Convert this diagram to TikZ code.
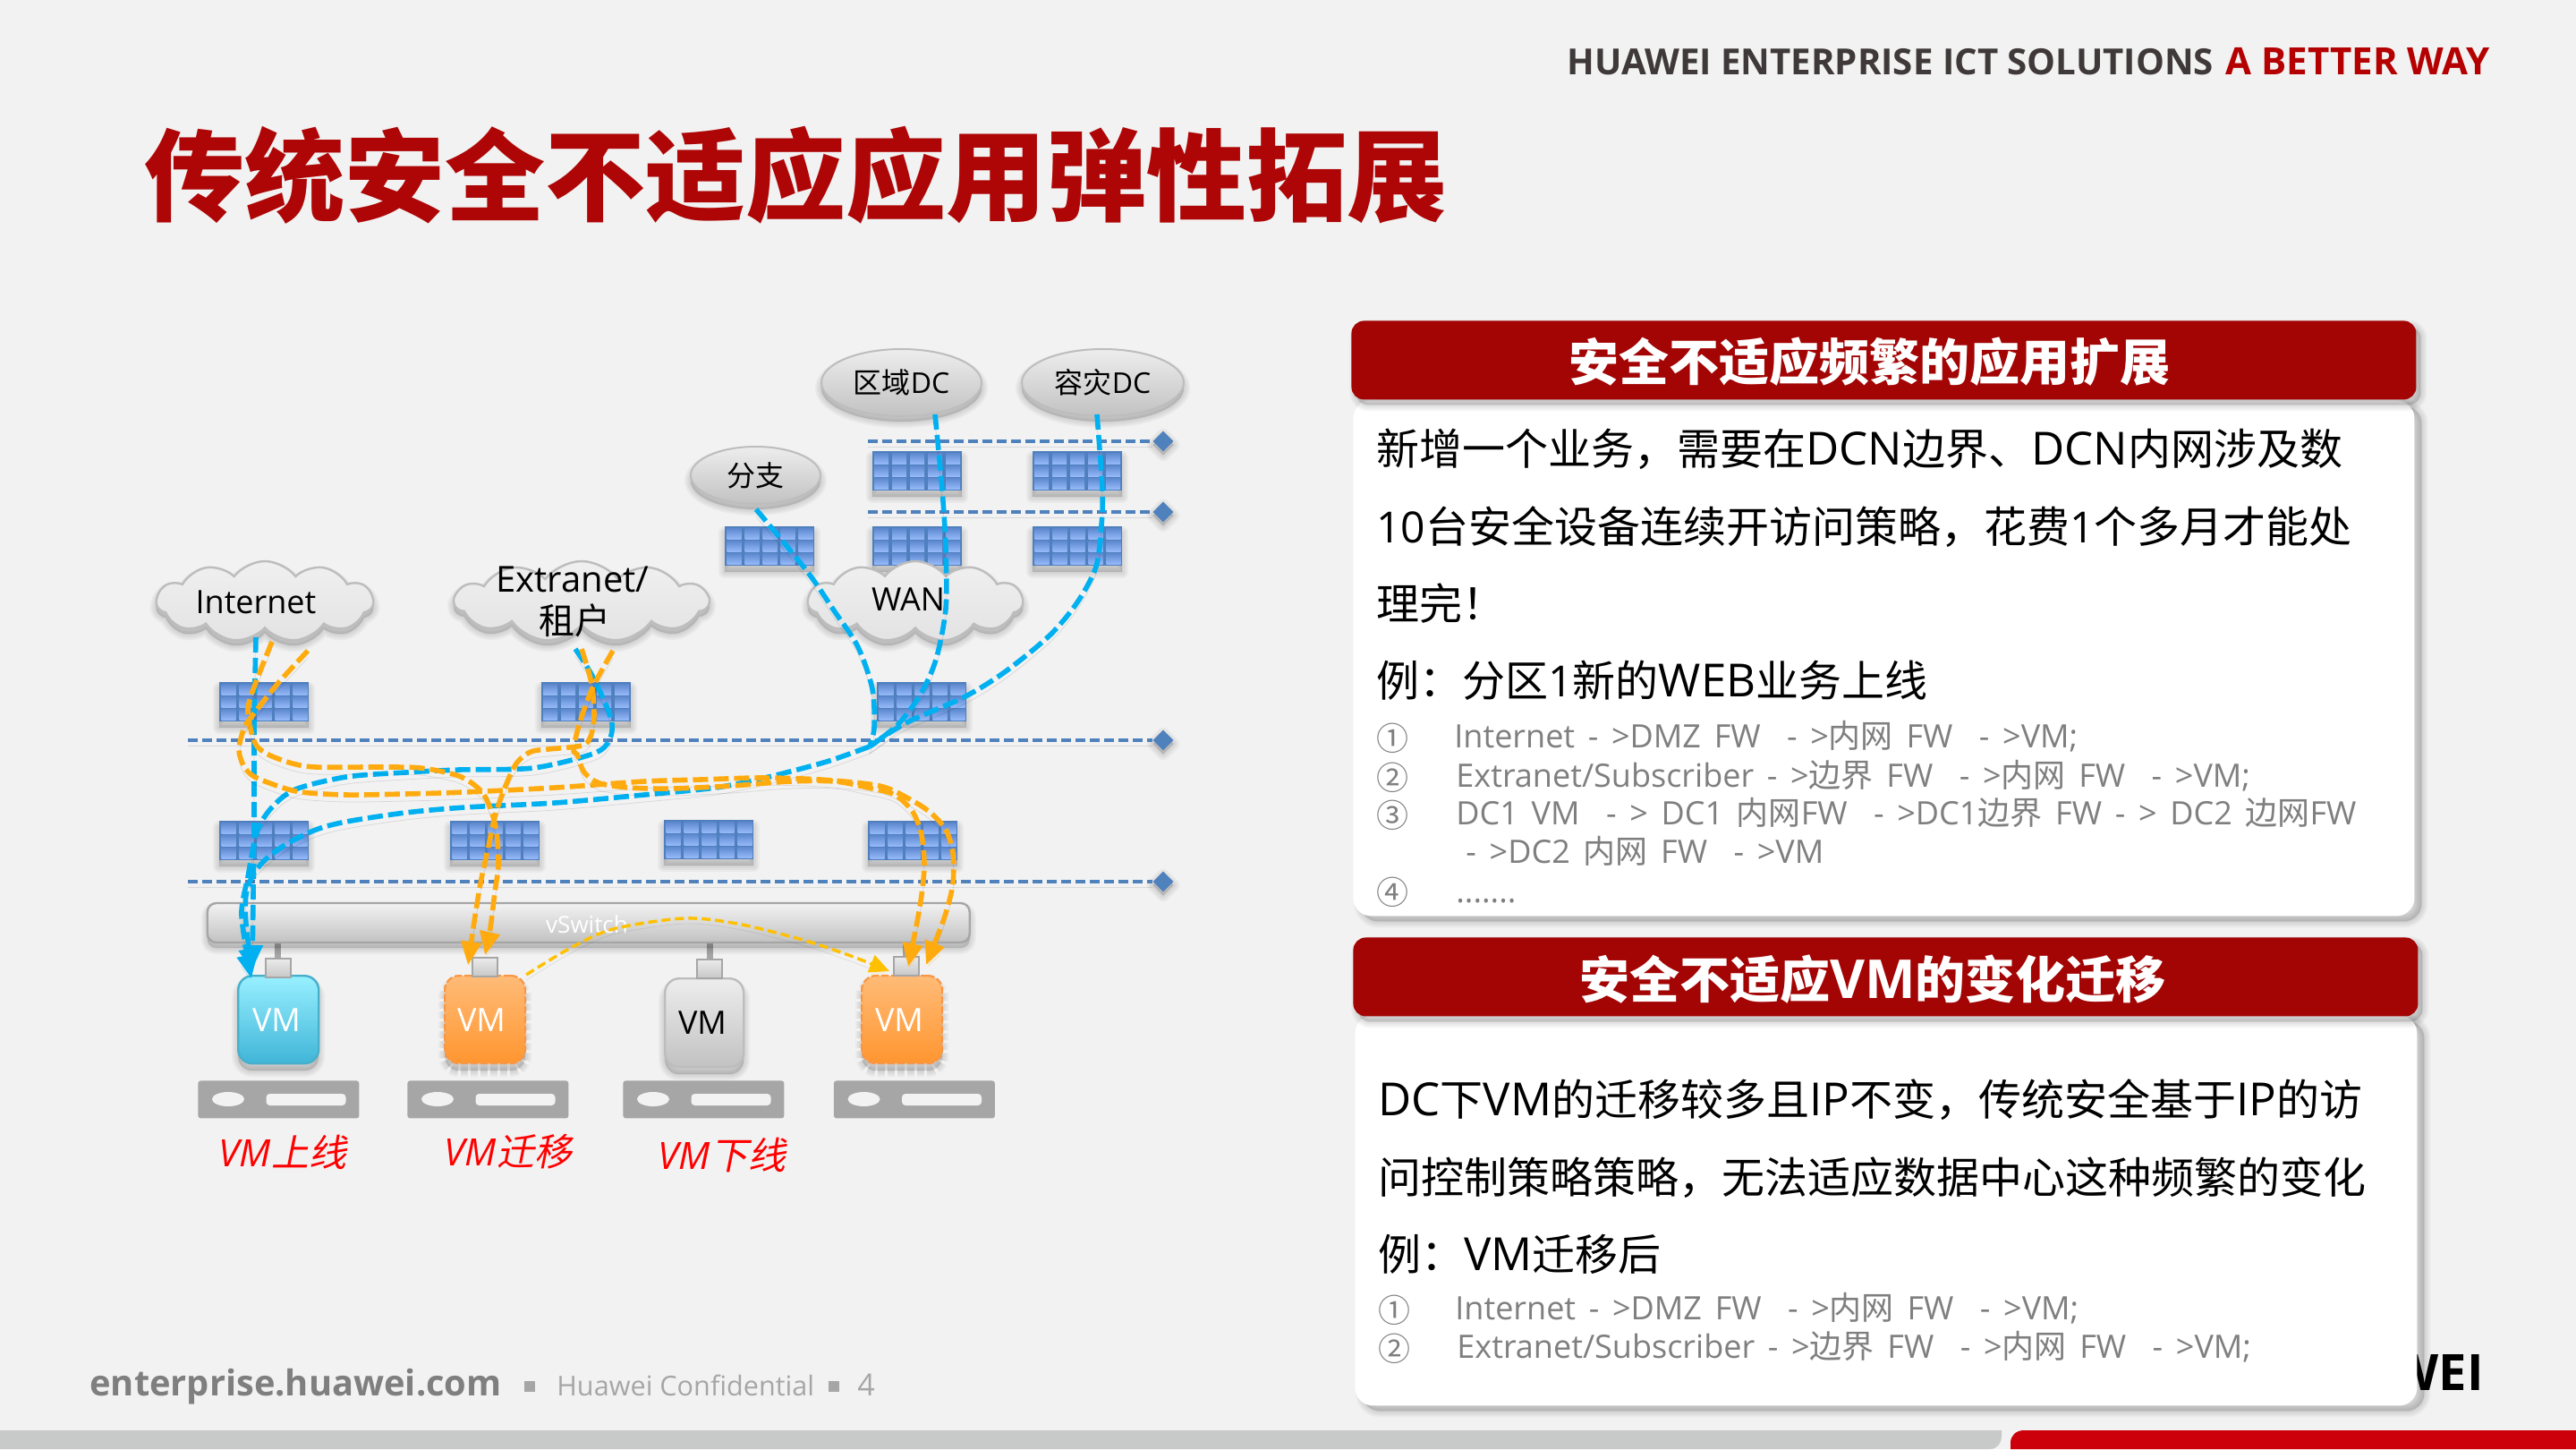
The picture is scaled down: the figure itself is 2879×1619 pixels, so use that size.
\documentclass[tikz,border=0pt]{standalone}
\usepackage{fontspec}
\setmainfont{Open Sans}
\newfontfamily\cjk{Noto Sans CJK SC}
\newfontfamily\cjkit{Noto Sans CJK SC}[FakeSlant=0.2]
\usetikzlibrary{shapes.geometric,shapes.symbols,arrows.meta}
\newcommand\C[1]{{\cjk #1}}
\newcommand\fs[1]{\fontsize{#1}{#1}\selectfont}
\newcommand\Lt[1]{{\fs{25.5}#1}}
\newcommand\listfont{\fs{18}\spaceskip=7.35pt\relax}
\definecolor{bgc}{HTML}{F2F2F2}
\definecolor{bandc}{HTML}{A30404}
\definecolor{titlec}{HTML}{AE0606}
\definecolor{headc}{HTML}{3F3A39}
\definecolor{headr}{HTML}{B40000}
\definecolor{greyt}{HTML}{7F7F7F}
\definecolor{greyl}{HTML}{A6A6A6}
\definecolor{barg}{HTML}{C8CAC9}
\definecolor{barr}{HTML}{CC000B}
\definecolor{fwb}{HTML}{4F7FBD}
\definecolor{fwt}{HTML}{5F8AD0}
\definecolor{fwl}{HTML}{94B8F8}
\definecolor{dashb}{HTML}{4F81BD}
\definecolor{linkb}{HTML}{00B0F0}
\definecolor{linko}{HTML}{FFAB0F}
\definecolor{linky}{HTML}{FFC000}
\definecolor{bord}{HTML}{BDBDBD}
\definecolor{cyant}{HTML}{98F0FF}
\definecolor{cyanb}{HTML}{40B5D8}
\definecolor{cyanl}{HTML}{48AFCB}
\definecolor{oranget}{HTML}{FFBB77}
\definecolor{orangeb}{HTML}{FF9630}
\definecolor{orangel}{HTML}{F79646}
\tikzset{
  softshadow/.style 2 args={
    preaction={draw=black,fill=black,line join=round,opacity=.035,line width=7pt,transform canvas={xshift=#1,yshift=#2}},
    preaction={draw=black,fill=black,line join=round,opacity=.035,line width=5pt,transform canvas={xshift=#1,yshift=#2}},
    preaction={draw=black,fill=black,line join=round,opacity=.035,line width=3pt,transform canvas={xshift=#1,yshift=#2}},
    preaction={draw=black,fill=black,line join=round,opacity=.035,line width=1pt,transform canvas={xshift=#1,yshift=#2}}},
  band/.style={rectangle,rounded corners=7pt,fill=bandc,minimum height=44pt,inner sep=0pt,anchor=north west,softshadow={2.5pt}{-3pt}},
  card/.style={rectangle,rounded corners=10pt,fill=white,inner sep=0pt,anchor=north west,softshadow={4pt}{-3pt}},
  bandtext/.style={text=white,font=\bfseries\fs{28},inner sep=0pt,anchor=center},
  bodytext/.style={text=black,font=\fs{24},inner sep=0pt,anchor=base west},
  listtext/.style={text=greyt,font=\listfont,inner sep=0pt,anchor=base west},
  plain/.style={inner sep=0pt,anchor=base west},
  fwbody/.style={rectangle,fill=fwb,minimum width=50pt,minimum height=22pt,inner sep=0pt,anchor=north west,softshadow={0pt}{-3.5pt}},
  fwcell/.style={top color=fwt,bottom color=fwl},
  tier/.style={draw=dashb,line width=1.8pt,dash pattern=on 5.5pt off 2.5pt,preaction={draw=black,opacity=.10,transform canvas={yshift=-3pt}}},
  tiermark/.style={diamond,fill=dashb,minimum width=11.5pt,minimum height=11.5pt,inner sep=0pt,aspect=1,softshadow={0pt}{-2pt}},
  oval/.style={ellipse,draw=bord,line width=1pt,top color=white!93!black,bottom color=white!76!black,inner sep=0pt,font=\fs{16},softshadow={0pt}{-3pt}},
  puff/.style={cloud,cloud puffs=11,cloud puff arc=105,aspect=2.7,draw=bord,line width=1.2pt,top color=white!94!black,bottom color=white!89!black,inner sep=0pt,softshadow={0pt}{-3pt}},
  link/.style={line width=2.8pt,dash pattern=on 8.5pt off 3pt,preaction={draw=black,opacity=.10,transform canvas={yshift=-4pt}}},
  bluelink/.style={link,draw=linkb},
  orangelink/.style={link,draw=linko},
  thinlink/.style={draw=linky,line width=1.7pt,dash pattern=on 5pt off 2.5pt,preaction={draw=black,opacity=.08,transform canvas={yshift=-3pt}}},
  bluetip/.style={-{Triangle[length=13pt,width=11pt,fill=linkb,color=linkb]}},
  orangetip/.style={-{Triangle[length=13pt,width=11pt,fill=linko,color=linko]}},
  yellowtip/.style={-{Triangle[length=11pt,width=10pt,fill=linky,color=linky]}},
  vmbox/.style={rectangle,rounded corners=8pt,minimum width=45pt,minimum height=49pt,inner sep=0pt,anchor=north west,softshadow={0pt}{-4pt}},
  vmcyan/.style={vmbox,draw=cyanl,line width=1.2pt,top color=cyant,bottom color=cyanb},
  vmorange/.style={vmbox,draw=orangel,line width=1.1pt,dash pattern=on 4pt off 1.5pt,top color=oranget,bottom color=orangeb},
  vmgray/.style={vmbox,draw=bord,line width=1.2pt,top color=white!93!black,bottom color=white!76!black},
  vmtext/.style={font=\fs{18},inner sep=0pt},
  port/.style={rectangle,draw=greyl,line width=1.2pt,top color=white!92!black,bottom color=white!78!black,minimum width=14pt,minimum height=10.5pt,inner sep=0pt,anchor=north west},
  stub/.style={draw=greyl,line width=3.5pt},
  rack/.style={rectangle,rounded corners=1.5pt,fill=greyl,minimum width=90pt,minimum height=21pt,inner sep=0pt,anchor=north west},
  rackhole/.style={ellipse,fill=bgc,minimum width=18pt,minimum height=8pt,inner sep=0pt},
  rackslot/.style={rectangle,rounded corners=2pt,fill=bgc,minimum width=44.5pt,minimum height=6.5pt,inner sep=0pt},
  redlabel/.style={text=red,font=\itshape\fs{21},inner sep=0pt}
}
\newcommand\fwbox[3]{%
  \node[fwbody] (#1) at (#2,#3) {};
  \begin{scope}[shift={(#2,#3)}]
    \foreach \i in {0,...,4}\foreach \j in {0,1,2}
      \fill[fwcell] ({\i*20+2.5},{\j*14+2.5}) rectangle ++(16,11.5);
  \end{scope}}
\newcommand\rackbox[2]{%
  \node[rack] (#1) at (#2,1207) {};
  \node[rackhole] (#1h) at ({#2+34},1228) {};
  \node[rackslot] (#1s) at ({#2+121},1228.5) {};}
\begin{document}
\begin{tikzpicture}[x=0.5pt,y=-0.5pt]
\useasboundingbox (0,0) rectangle (2879,1619);
\fill[bgc] (0,0) rectangle (2879,1619);
% bottom bars
\fill[barg] (0,1598) -- (2237,1598) -- (2237,1604) .. controls (2237,1612) and (2232,1619) .. (2224,1619) -- (0,1619) -- cycle;
\fill[barr] (2247,1619) -- (2247,1612) .. controls (2247,1604) and (2253,1598) .. (2262,1598) -- (2879,1598) -- (2879,1619) -- cycle;
% header
\node[plain,font=\bfseries\fs{20.1},text=headc] (hd1) at (1751,83) {HUAWEI ENTERPRISE ICT SOLUTIONS};
\node[plain,font=\bfseries\fs{21},text=headr] (hd2) at (2487,83) {A BETTER WAY};
\node[plain,font=\bfseries\fs{56},text=titlec] (ttl) at (161,238) {\C{传统安全不适应应用弹性拓展}};
% footer
\node[plain,font=\bfseries\fs{19.9},text=greyt] (ft1) at (100,1559) {enterprise.huawei.com};
\fill[greyl] (586,1543) rectangle (598,1555);
\node[plain,font=\fs{15.3},text=greyl] (ft2) at (622,1559) {Huawei Confidential};
\fill[greyl] (926,1543) rectangle (938,1555);
\node[plain,font=\fs{17},text=greyl] (ft3) at (958,1559) {4};
\node[inner sep=0pt,anchor=base east,font=\bfseries\fs{28},text=black] (logo) at (2776,1553) {HUAWEI};
% cards
\node[card,minimum width=593pt,minimum height=288pt] (card1) at (1512,447) {};
\node[band,minimum width=595pt] (band1) at (1510,358) {};
\node[bandtext] (band1t) at (2089,404) {\C{安全不适应频繁的应用扩展}};
\node[bodytext] (a1) at (1538,519) {\C{新增一个业务，需要在}\Lt{DCN}\C{边界、}\Lt{DCN}\C{内网涉及数}};
\node[bodytext] (a2) at (1538,606) {10\C{台安全设备连续开访问策略，花费}1\C{个多月才能处}};
\node[bodytext] (a3) at (1538,692) {\C{理完！}};
\node[bodytext] (a4) at (1538,778) {\C{例：分区}1\C{新的}\Lt{WEB}\C{业务上线}};
\node[listtext] (n1) at (1538,838) {\C{①}};
\node[listtext] (l1) at (1625,835) {Internet - >DMZ FW \ - >\C{内网} FW \ - >VM;};
\node[listtext] (n2) at (1538,882) {\C{②}};
\node[listtext] (l2) at (1627,879) {Extranet/Subscriber - >\C{边界} FW \ - >\C{内网} FW \ - >VM;};
\node[listtext] (n3) at (1538,924) {\C{③}};
\node[listtext] (l3) at (1627,921) {DC1 VM \ - > DC1 \C{内网}FW \ - >DC1\C{边界} FW - > DC2 \C{边网}FW};
\node[listtext] (l3b) at (1638,964) {- >DC2 \C{内网} FW \ - >VM};
\node[listtext] (n4) at (1538,1010) {\C{④}};
\node[listtext] (l4) at (1627,1008) {.......};
\node[card,minimum width=593.5pt,minimum height=218pt] (card2) at (1514,1134) {};
\node[band,minimum width=595pt] (band2) at (1512,1047) {};
\node[bandtext] (band2t) at (2093,1094) {\C{安全不适应}{\fs{30}VM}\C{的变化迁移}};
\node[bodytext] (b1) at (1540,1246) {\Lt{DC}\C{下}\Lt{VM}\C{的迁移较多且}\Lt{IP}\C{不变，传统安全基于}\Lt{IP}\C{的访}};
\node[bodytext] (b2) at (1540,1333) {\C{问控制策略策略，无法适应数据中心这种频繁的变化}};
\node[bodytext] (b3) at (1540,1419) {\C{例：}\Lt{VM}\C{迁移后}};
\node[listtext] (m1) at (1540,1477) {\C{①}};
\node[listtext] (k1) at (1626,1474) {Internet - >DMZ FW \ - >\C{内网} FW \ - >VM;};
\node[listtext] (m2) at (1540,1520) {\C{②}};
\node[listtext] (k2) at (1628,1517) {Extranet/Subscriber - >\C{边界} FW \ - >\C{内网} FW \ - >VM;};
% tiers
\node[tiermark] (d1) at (1300,493) {};
\node[tiermark] (d2) at (1300,572) {};
\node[tiermark] (d3) at (1300,827) {};
\node[tiermark] (d4) at (1300,985) {};
\coordinate (t1) at (970,493); \coordinate (t2) at (970,572);
\coordinate (t3) at (210,827); \coordinate (t4) at (210,985);
\draw[tier] (t1) -- (d1.west);
\draw[tier] (t2) -- (d2.west);
\draw[tier] (t3) -- (d3.west);
\draw[tier] (t4) -- (d4.west);
% firewalls
\fwbox{fwA}{974.5}{504}
\fwbox{fwB}{1153.5}{504}
\fwbox{fwC}{810}{588}
\fwbox{fwD}{974.5}{588}
\fwbox{fwE}{1154}{588}
\fwbox{fwF}{245}{762}
\fwbox{fwG}{604.5}{762}
\fwbox{fwH}{980}{762}
\fwbox{fwI}{245}{917}
\fwbox{fwJ}{503}{917}
\fwbox{fwK}{742}{916}
\fwbox{fwL}{970}{917}
% ovals
\node[oval,minimum width=89.5pt,minimum height=37.5pt] (dcA) at (1007.5,427.5) {\C{区域}DC};
\node[oval,minimum width=90.5pt,minimum height=37.5pt] (dcB) at (1232.5,427.5) {\C{容灾}DC};
\node[oval,minimum width=72.5pt,minimum height=32pt] (br) at (844.5,531) {\C{分支}};
% clouds
\node[puff,minimum width=121pt,minimum height=45pt] (inet) at (296,672) {};
\node[puff,minimum width=142pt,minimum height=45pt] (extr) at (650,672) {};
\node[puff,minimum width=120pt,minimum height=45pt] (wan) at (1023,672) {};
\node[inner sep=0pt,font=\fs{18}] (inetT) at (286,673) {Internet};
\node[inner sep=0pt,font=\fs{20}] (extrT) at (640,647) {Extranet/};
\node[inner sep=0pt,font=\fs{20}] (extrU) at (642,693) {\C{租户}};
\node[inner sep=0pt,font=\fs{18}] (wanT) at (1015,670) {WAN};
% vswitch, stubs
\draw[stub] (310,1053) -- (310,1072);
\draw[stub] (793,1053) -- (793,1074);
\draw[stub] (1012,1053) -- (1012,1070);
\node[rectangle,rounded corners=5pt,draw=greyl,line width=1.2pt,top color=white!95!black,bottom color=white!76!black,minimum width=426pt,minimum height=22pt,inner sep=0pt,softshadow={0pt}{-3pt}] (vsw) at (657.75,1031) {};
\node[inner sep=0pt,text=white,font=\fs{13}] (vswT) at (656,1033) {vSwitch};
% VMs
\node[vmcyan] (vm1) at (265,1089) {};
\node[vmorange] (vm2) at (496,1089) {};
\node[vmgray,minimum height=49.5pt,minimum width=44pt] (vm3) at (742,1092) {};
\node[vmorange] (vm4) at (962,1089) {};
\node[vmtext,text=white] at (309,1140) {VM};
\node[vmtext,text=white] at (538,1140) {VM};
\node[vmtext,text=black] at (785,1143) {VM};
\node[vmtext,text=white] at (1005,1140) {VM};
\node[port] (p1) at (296,1070) {};
\node[port] (p2) at (527,1069) {};
\node[port] (p3) at (778,1071) {};
\node[port] (p4) at (998,1068) {};
% racks
\rackbox{r1}{221}
\rackbox{r2}{455}
\rackbox{r3}{696}
\rackbox{r4}{931.5}
\node[redlabel] (L1) at (316,1287) {VM{\cjkit 上线}};
\node[redlabel] (L2) at (568,1287) {VM{\cjkit 迁移}};
\node[redlabel] (L3) at (807,1290) {VM{\cjkit 下线}};
% link ends
\coordinate (sI) at (286,712);  \coordinate (sIa) at (304,717); \coordinate (sIb) at (344,727);
\coordinate (sE) at (643,725);  \coordinate (sEa) at (650,725); \coordinate (sEb) at (685,727);
\coordinate (sB) at (845,569);  \coordinate (sA) at (1045,463); \coordinate (sD) at (1226,463);
\coordinate (join) at (972,834);
\coordinate (e1a) at (282,1082); \coordinate (e1b) at (281,1093); \coordinate (e1c) at (282,1086);
\coordinate (e2a) at (542,1067); \coordinate (e2b) at (523,1078);
\coordinate (e4a) at (1015,1080); \coordinate (e4b) at (1035,1078); \coordinate (e4c) at (994,1085);
% blue links
\draw[bluelink,bluetip] plot[smooth,tension=.5] coordinates {(sI) (285,760) (284,827) (284,917) (283,1000) (e1a)};
\draw[bluelink,bluetip] plot[smooth,tension=.5] coordinates {(sE) (663,757) (683,803) (681,827) (663,842) (596,858) (513,860) (453,863) (387,868) (330,882) (303,903) (287,930) (277,980) (270,1023) (e1b)};
\draw[bluelink] plot[smooth,tension=.5] coordinates {(sB) (901,637) (932,682) (959,723) (975,770) (977,813) (join)};
\draw[bluelink] plot[smooth,tension=.5] coordinates {(sA) (1053,547) (1057,613) (1057,680) (1046,737) (1028,777) (1003,810) (join)};
\draw[bluelink] plot[smooth,tension=.5] coordinates {(sD) (1232,547) (1231,587) (1225,633) (1204,673) (1173,710) (1124,750) (1079,778) (1012,808) (join)};
\draw[bluelink,bluetip] plot[smooth,tension=.5] coordinates {(join) (927,850) (883,862) (850,870) (800,880) (720,888) (620,897) (520,902) (453,908) (387,918) (353,927) (320,943) (297,960) (283,977) (275,1000) (275,1033) (e1c)};
% orange links
\draw[orangelink,orangetip] plot[smooth,tension=.5] coordinates {(sIa) (288,757) (277,793) (285,830) (300,843) (327,853) (353,857) (420,857) (470,858) (513,867) (537,883) (548,903) (555,930) (557,967) (553,997) (548,1037) (e2a)};
\draw[orangelink,orangetip] plot[smooth,tension=.5] coordinates {(sIb) (311,763) (284,797) (273,813) (267,837) (272,855) (283,867) (310,878) (337,885) (387,888) (453,887) (520,885) (620,880) (720,873) (783,871) (850,869) (917,871) (983,878) (1017,893) (1040,908) (1057,927) (1065,953) (1065,987) (1058,1017) (1050,1040) (e4b)};
\draw[orangelink,orangetip] plot[smooth,tension=.5] coordinates {(sEa) (661,763) (664,800) (660,823) (650,833) (613,837) (593,840) (577,853) (563,883) (553,913) (545,950) (537,987) (530,1030) (e2b)};
\draw[orangelink,orangetip] plot[smooth,tension=.5] coordinates {(sEb) (663,767) (648,807) (641,837) (645,843) (653,863) (670,875) (703,880) (750,881) (817,878) (883,873) (933,873) (970,880) (1000,888) (1020,907) (1030,933) (1033,967) (1030,1000) (1025,1030) (e4a)};
\draw[thinlink,yellowtip] plot[smooth,tension=.5] coordinates {(vm2.north east) (636,1060) (685,1038) (764,1026) (824,1032) (897,1050) (951,1068) (e4c)};
\end{tikzpicture}
\end{document}
